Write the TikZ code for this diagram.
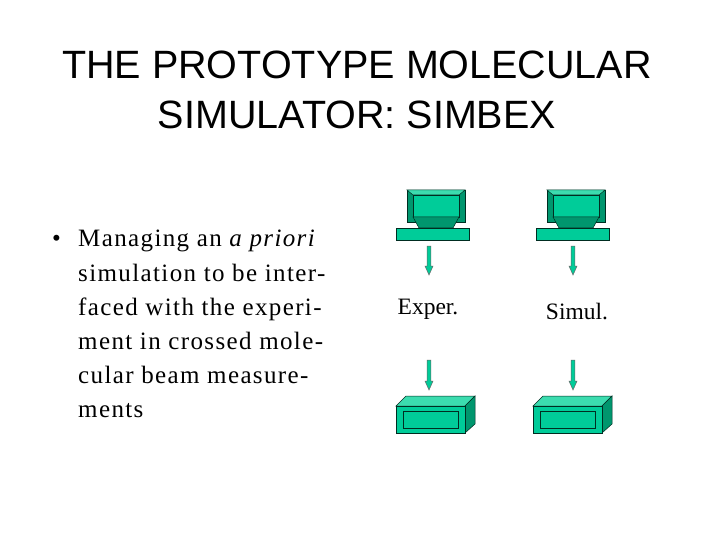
\documentclass[tikz,border=0pt]{standalone}
\usepackage{fontspec}
\setmainfont{Liberation Serif}
\newfontfamily\titlefont{Liberation Sans}
\newfontfamily\spacedfont[LetterSpace=5.5]{Liberation Serif}
\definecolor{teal1}{RGB}{0,204,153}
\definecolor{teal2}{RGB}{0,150,110}
\definecolor{teal3}{RGB}{60,220,175}
\tikzset{
  part/.style={fill=teal1,draw=black!70!teal2,line width=0.5pt},
  dark/.style={fill=teal2,draw=black!70!teal2,line width=0.5pt},
  light/.style={fill=teal3,draw=black!70!teal2,line width=0.5pt},
  arr/.style={draw=black!60,line width=0.5pt,fill=teal1},
  lbl/.style={font=\fontsize{23.5}{26}\selectfont,inner sep=0pt},
  bodytxt/.style={font=\spacedfont\fontsize{25}{34}\selectfont,align=left,anchor=base west,inner sep=0pt}
}
\newcommand{\mymonitor}[2]{%
  \begin{scope}[shift={(#1,#2)}]
  \path[dark] (0,0) -- (58,0) -- (58,32) -- (0,32) -- cycle;
  \path[light] (0,0) -- (58,0) -- (52,5) -- (6,5) -- cycle;
  \path[part] (6,5) rectangle (52,27);
  \path[dark] (6,27) -- (52,27) -- (46,38) -- (12,38) -- cycle;
  \path[part] (-11,38) rectangle (62,50);
  \end{scope}}
\newcommand{\myharddisk}[2]{%
  \begin{scope}[shift={(#1,#2)}]
  \path[light] (0,10) -- (10,0) -- (79,0) -- (69,10) -- cycle;
  \path[dark] (69,10) -- (79,0) -- (79,28) -- (69,37) -- cycle;
  \path[part] (0,10) rectangle (69,37);
  \path[part] (7,15) rectangle (62,32);
  \end{scope}}
\newcommand{\mydownarrow}[3]{%
  \path[arr] (#1-1.8,#2) -- (#1+1.8,#2) -- (#1+1.8,#3-9) -- (#1+4,#3-9) -- (#1,#3) -- (#1-4,#3-9) -- (#1-1.8,#3-9) -- cycle;}
\begin{document}
\begin{tikzpicture}[x=1pt,y=-1pt]
\useasboundingbox[fill=white] (0,0) rectangle (720,540);
\node[font=\titlefont\fontsize{39.5}{50}\selectfont,align=center] (title) at (357,90) {THE PROTOTYPE MOLECULAR\\SIMULATOR: SIMBEX};
\node[bodytxt] (bul) at (52,247) {•};
\node[bodytxt] (l1) at (78,247) {Managing an \textit{a priori}};
\node[bodytxt] (l2) at (78,281) {simulation to be inter-};
\node[bodytxt] (l3) at (78,315) {faced with the experi-};
\node[bodytxt] (l4) at (78,349) {ment in crossed mole-};
\node[bodytxt] (l5) at (78,383) {cular beam measure-};
\node[bodytxt] (l6) at (78,417) {ments};
\mymonitor{407}{190}
\mymonitor{547}{190}
\mydownarrow{429}{246}{275}
\mydownarrow{573}{246}{275}
\node[lbl] (ex) at (428,309) {Exper.};
\node[lbl] (si) at (577,312) {Simul.};
\mydownarrow{429}{360}{390}
\mydownarrow{573}{360}{390}
\myharddisk{396}{396}
\myharddisk{533}{396}
\end{tikzpicture}
\end{document}
